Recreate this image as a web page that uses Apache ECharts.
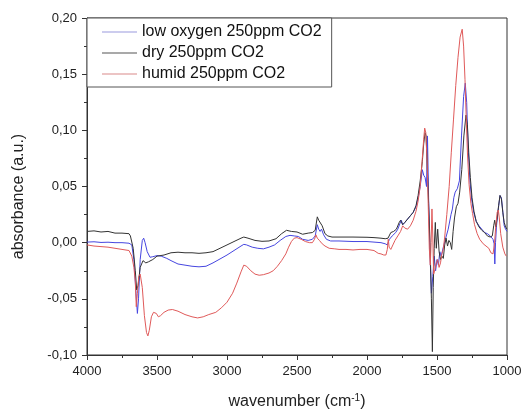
<!DOCTYPE html>
<html>
<head>
<meta charset="utf-8">
<script src="https://cdn.jsdelivr.net/npm/echarts@6/dist/echarts.min.js"></script>
<style>html,body{margin:0;padding:0;background:#fff;}#c{width:528px;height:415px;}</style>
</head>
<body>
<div id="c"></div>
<script>
// [wavenumber (cm-1), absorbance]
const lowOxygen = [[4000,0.0005],[3950,0.0008],[3900,0.0002],[3850,0.0004],[3800,0.0],[3750,0.0],[3700,-0.0005],[3680,-0.002],[3665,-0.015],[3650,-0.045],[3640,-0.063],[3632,-0.05],[3620,-0.015],[3605,0.002],[3595,0.004],[3585,0.0],[3570,-0.008],[3550,-0.013],[3530,-0.0125],[3500,-0.0115],[3470,-0.012],[3430,-0.014],[3400,-0.016],[3350,-0.019],[3300,-0.020],[3250,-0.021],[3200,-0.0215],[3150,-0.021],[3100,-0.018],[3050,-0.0145],[3000,-0.011],[2950,-0.007],[2900,-0.003],[2880,-0.0015],[2860,-0.002],[2820,-0.004],[2780,-0.005],[2740,-0.0055],[2700,-0.004],[2660,-0.002],[2620,0.002],[2580,0.0055],[2550,0.0065],[2520,0.006],[2490,0.0055],[2460,0.003],[2420,0.002],[2390,0.003],[2370,0.006],[2355,0.016],[2345,0.012],[2335,0.010],[2325,0.012],[2310,0.007],[2290,0.003],[2260,0.0015],[2200,0.0015],[2100,0.001],[2000,0.001],[1950,0.0005],[1900,0.0],[1870,-0.001],[1855,-0.002],[1840,0.003],[1820,0.006],[1810,0.005],[1795,0.009],[1780,0.012],[1765,0.017],[1755,0.020],[1745,0.016],[1730,0.018],[1710,0.021],[1690,0.024],[1670,0.027],[1650,0.032],[1635,0.040],[1620,0.050],[1605,0.065],[1595,0.060],[1585,0.058],[1575,0.050],[1568,0.095],[1560,0.040],[1550,-0.010],[1540,-0.045],[1530,-0.030],[1520,-0.012],[1510,-0.025],[1500,-0.015],[1490,-0.020],[1480,-0.008],[1470,-0.012],[1455,-0.004],[1440,0.003],[1420,0.012],[1400,0.025],[1390,0.030],[1380,0.040],[1370,0.045],[1355,0.048],[1340,0.055],[1325,0.095],[1310,0.130],[1298,0.142],[1288,0.125],[1278,0.085],[1265,0.055],[1252,0.038],[1238,0.027],[1220,0.019],[1200,0.015],[1180,0.012],[1160,0.009],[1140,0.008],[1120,0.006],[1100,0.003],[1092,-0.001],[1087,-0.019],[1082,0.0],[1075,0.015],[1060,0.032],[1050,0.042],[1040,0.040],[1030,0.028],[1020,0.015],[1010,0.012],[1000,0.010]];

const dry = [[4000,0.010],[3950,0.0105],[3900,0.0095],[3850,0.010],[3800,0.0085],[3750,0.0085],[3700,0.008],[3690,0.006],[3670,-0.005],[3655,-0.025],[3645,-0.042],[3635,-0.038],[3620,-0.022],[3600,-0.016],[3580,-0.018],[3560,-0.017],[3530,-0.015],[3500,-0.012],[3450,-0.011],[3400,-0.009],[3350,-0.0085],[3300,-0.009],[3250,-0.009],[3200,-0.0095],[3150,-0.009],[3100,-0.008],[3050,-0.005],[3000,-0.002],[2950,0.001],[2900,0.004],[2880,0.005],[2850,0.004],[2800,0.002],[2750,0.0012],[2700,0.0015],[2650,0.0035],[2610,0.008],[2575,0.011],[2540,0.010],[2500,0.0095],[2460,0.0075],[2420,0.0085],[2390,0.009],[2370,0.011],[2355,0.023],[2345,0.020],[2335,0.019],[2320,0.015],[2300,0.008],[2280,0.006],[2250,0.005],[2200,0.005],[2100,0.005],[2000,0.0048],[1950,0.0045],[1900,0.004],[1870,0.0035],[1850,0.004],[1830,0.009],[1810,0.010],[1790,0.012],[1770,0.018],[1760,0.020],[1745,0.016],[1730,0.018],[1710,0.021],[1690,0.024],[1670,0.027],[1650,0.033],[1635,0.042],[1620,0.055],[1605,0.072],[1595,0.088],[1585,0.098],[1578,0.095],[1570,0.070],[1560,0.035],[1550,0.0],[1540,-0.05],[1533,-0.097],[1527,-0.04],[1520,-0.005],[1512,0.018],[1505,-0.005],[1495,0.012],[1485,-0.008],[1475,-0.015],[1465,-0.012],[1455,-0.014],[1445,-0.002],[1435,0.004],[1425,-0.003],[1415,0.002],[1405,0.0],[1395,-0.006],[1385,0.010],[1375,0.022],[1362,0.032],[1350,0.035],[1338,0.045],[1323,0.065],[1308,0.095],[1293,0.1135],[1283,0.105],[1273,0.080],[1262,0.058],[1250,0.040],[1236,0.028],[1220,0.019],[1200,0.014],[1180,0.011],[1160,0.009],[1140,0.006],[1120,0.005],[1105,0.006],[1095,0.015],[1088,0.020],[1080,0.014],[1070,0.022],[1060,0.033],[1050,0.042],[1040,0.039],[1030,0.027],[1020,0.018],[1010,0.014],[1000,0.012]];

const humid = [[4000,-0.002],[3950,-0.003],[3900,-0.0035],[3850,-0.004],[3800,-0.005],[3750,-0.006],[3700,-0.007],[3680,-0.012],[3665,-0.022],[3655,-0.035],[3648,-0.057],[3640,-0.045],[3630,-0.030],[3620,-0.028],[3605,-0.040],[3590,-0.065],[3575,-0.080],[3565,-0.083],[3555,-0.078],[3540,-0.066],[3525,-0.062],[3505,-0.063],[3490,-0.066],[3475,-0.065],[3450,-0.062],[3420,-0.060],[3390,-0.0595],[3350,-0.061],[3300,-0.064],[3250,-0.066],[3210,-0.067],[3170,-0.066],[3130,-0.064],[3080,-0.062],[3040,-0.058],[3000,-0.053],[2960,-0.045],[2930,-0.036],[2900,-0.026],[2880,-0.020],[2860,-0.021],[2830,-0.025],[2800,-0.028],[2770,-0.029],[2740,-0.0285],[2700,-0.027],[2670,-0.025],[2640,-0.021],[2610,-0.016],[2580,-0.010],[2560,-0.004],[2540,0.001],[2520,0.004],[2500,0.0045],[2470,0.003],[2440,0.001],[2410,0.0],[2390,0.0],[2375,0.003],[2365,0.007],[2355,0.004],[2340,0.002],[2320,-0.001],[2300,-0.003],[2270,-0.005],[2230,-0.0055],[2200,-0.006],[2150,-0.006],[2100,-0.0065],[2050,-0.006],[2000,-0.006],[1950,-0.007],[1920,-0.0095],[1900,-0.010],[1880,-0.011],[1865,-0.011],[1855,-0.006],[1848,0.003],[1842,-0.004],[1830,-0.006],[1815,-0.002],[1800,0.002],[1780,0.006],[1760,0.010],[1745,0.015],[1730,0.013],[1710,0.012],[1690,0.015],[1670,0.020],[1650,0.028],[1635,0.037],[1620,0.050],[1605,0.075],[1595,0.092],[1588,0.102],[1580,0.098],[1570,0.070],[1562,0.030],[1555,-0.005],[1548,-0.020],[1542,0.0],[1536,0.030],[1530,0.005],[1524,-0.028],[1515,-0.024],[1505,-0.018],[1495,-0.015],[1485,-0.022],[1475,-0.018],[1465,-0.010],[1455,-0.006],[1445,0.005],[1430,0.025],[1413,0.050],[1398,0.080],[1382,0.110],[1366,0.140],[1350,0.165],[1335,0.183],[1320,0.190],[1310,0.175],[1300,0.145],[1291,0.110],[1282,0.078],[1271,0.052],[1258,0.035],[1246,0.026],[1232,0.016],[1213,0.008],[1195,0.003],[1170,-0.001],[1150,-0.003],[1130,-0.005],[1115,-0.009],[1100,-0.010],[1090,-0.002],[1080,0.015],[1070,0.027],[1062,0.029],[1055,0.022],[1045,0.008],[1030,-0.004],[1015,-0.010],[1005,-0.012],[1000,-0.012]];

const seriesNames = ['low oxygen 250ppm CO2', 'dry 250ppm CO2', 'humid 250ppm CO2'];
const seriesColors = ['#4646e0', '#333333', '#e05a5a'];
const legendColors = ['#9a9ade', '#555555', '#d98a8a'];
const xTicks = [1000, 4000, 500];
const yTicks = [-0.10, 0.20, 0.05];

const FONT = '"Liberation Sans", Arial, sans-serif';
const chart = echarts.init(document.getElementById('c'), null, {renderer: 'canvas'});
const dataSets = [lowOxygen, dry, humid];
chart.setOption({
  animation: false,
  backgroundColor: '#ffffff',
  grid: {left: 87, right: 21, top: 18, bottom: 54, show: true, borderColor: '#333', borderWidth: 1, backgroundColor: 'transparent'},
  legend: {
    data: seriesNames.map((n, i) => ({name: n, itemStyle: {color: legendColors[i]}})),
    orient: 'vertical',
    left: 87, top: 18,
    padding: [6, 10, 5, 15],
    itemGap: 5,
    itemWidth: 35, itemHeight: 14,
    icon: 'path://M0,0 L100,0 L100,3.5 L0,3.5 Z',
    borderColor: '#555', borderWidth: 1,
    backgroundColor: '#fff',
    textStyle: {fontFamily: FONT, fontSize: 16, color: '#111'}
  },
  xAxis: {
    type: 'value', inverse: true,
    min: xTicks[0], max: xTicks[1], interval: xTicks[2],
    axisLine: {show: true, onZero: false, lineStyle: {color: '#333', width: 1}},
    axisTick: {show: true, length: 5, lineStyle: {color: '#333'}},
    minorTick: {show: true, splitNumber: 2, length: 3, lineStyle: {color: '#333'}},
    splitLine: {show: false},
    axisLabel: {fontFamily: FONT, fontSize: 13, color: '#222', margin: 10, formatter: v => String(v)},
    name: '{a|wavenumber (cm}{s|-1}{a|)}',
    nameLocation: 'middle', nameGap: 38,
    nameTextStyle: {rich: {a: {fontFamily: FONT, fontSize: 16, color: '#222'}, s: {fontFamily: FONT, fontSize: 10, color: '#222', verticalAlign: 'top', padding: [0, 0, 8, 0]}}}
  },
  yAxis: {
    type: 'value',
    min: yTicks[0], max: yTicks[1], interval: yTicks[2],
    axisLine: {show: true, onZero: false, lineStyle: {color: '#333', width: 1}},
    axisTick: {show: true, length: 5, lineStyle: {color: '#333'}},
    minorTick: {show: true, splitNumber: 2, length: 3, lineStyle: {color: '#333'}},
    splitLine: {show: false},
    axisLabel: {fontFamily: FONT, fontSize: 13, color: '#222', margin: 10,
      formatter: v => v.toFixed(2).replace('.', ',')},
    name: 'absorbance (a.u.)',
    nameLocation: 'middle', nameGap: 60,
    nameTextStyle: {fontFamily: FONT, fontSize: 16, color: '#222', padding: [0, 20, 0, 0]}
  },
  series: dataSets.map((d, i) => ({
    name: seriesNames[i], type: 'line', data: d,
    symbol: 'none', smooth: false,
    lineStyle: {width: 1, color: seriesColors[i]},
    itemStyle: {color: seriesColors[i]},
    z: 2 + i
  }))
});
</script>
</body>
</html>
